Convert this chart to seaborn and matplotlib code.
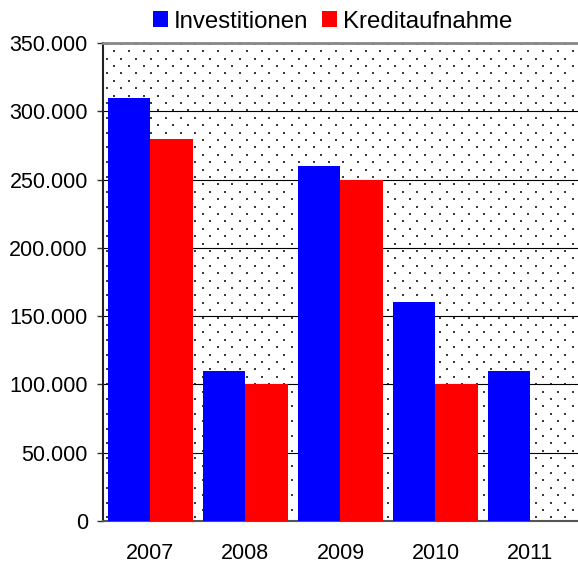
import pandas as pd
import numpy as np
import seaborn as sns
import matplotlib.pyplot as plt
import matplotlib.ticker

years = ['2007', '2008', '2009', '2010', '2011']
investitionen = [310000, 110000, 260000, 160000, 110000]
kreditaufnahme = [280000, 100000, 250000, 100000, 0]
series = ['Investitionen', 'Kreditaufnahme']
colors = ['#0000ff', '#ff0000']

sns.set_style('white')
plt.rcParams['font.family'] = ['Liberation Sans', 'DejaVu Sans']

df = pd.DataFrame({
    'Jahr': years * 2,
    'Wert': investitionen + kreditaufnahme,
    'Reihe': [series[0]] * len(years) + [series[1]] * len(years),
})

fig = plt.figure(figsize=(5.78, 5.66), dpi=100)
ax = fig.add_axes([0.178, 0.0795, 0.822, 0.8445])

# gepunkteter Hintergrund (versetztes Punkteraster, ca. 7,4 px Abstand)
w_px, h_px = 0.822 * 578, 0.8445 * 566
step = 7.4
rows = np.arange(step / 2, h_px, step)
px, py = [], []
for i, y in enumerate(rows):
    xs = np.arange(step / 2 + (step if i % 2 else 0), w_px, 2 * step)
    px.extend(xs / w_px)
    py.extend([y / h_px] * len(xs))
ax.scatter(px, py, transform=ax.transAxes, s=2.4, marker='s', color='#3c3c3c',
           linewidths=0, zorder=0.5, clip_on=True)

sns.barplot(data=df, x='Jahr', y='Wert', hue='Reihe', palette=colors,
            width=0.9, gap=0, saturation=1, linewidth=0, ax=ax, zorder=3)

ax.set_ylim(0, 350000)
ax.set_xlim(-0.5, 4.45)
ax.set_yticks(np.arange(0, 350001, 50000))
ax.yaxis.set_major_formatter(matplotlib.ticker.FuncFormatter(
    lambda v, pos: f'{int(v):,}'.replace(',', '.')))
ax.yaxis.grid(True, color='black', linewidth=0.8, zorder=1)
ax.set_axisbelow(True)
ax.set_xlabel('')
ax.set_ylabel('')

ax.set_xticks(np.arange(len(years)))
ax.set_xticklabels(years)
ax.set_xticks(np.arange(len(years) + 1) - 0.5, minor=True)
ax.tick_params(axis='x', which='major', length=0, pad=16, labelsize=15.5, labelcolor='black')
ax.tick_params(axis='x', which='minor', length=4, width=1, color='#333333', direction='out')
ax.tick_params(axis='y', length=4.3, width=1, color='#333333', direction='out', left=True,
               labelsize=15.5, labelcolor='black', pad=6.5)

ax.spines['left'].set_color('#222222')
ax.spines['left'].set_linewidth(1.5)
ax.spines['bottom'].set_color('#555555')
ax.spines['bottom'].set_linewidth(1.5)
ax.spines['top'].set_color('#888888')
ax.spines['top'].set_linewidth(2)
ax.spines['right'].set_visible(False)

ax.legend(loc='center', bbox_to_anchor=(0.484, 1.045), ncol=2, frameon=False,
          fontsize=17.3, handlelength=0.62, handleheight=0.62, handletextpad=0.25,
          columnspacing=0.58, borderpad=0.0, labelcolor='black')

fig.savefig('out.png', dpi=100)
